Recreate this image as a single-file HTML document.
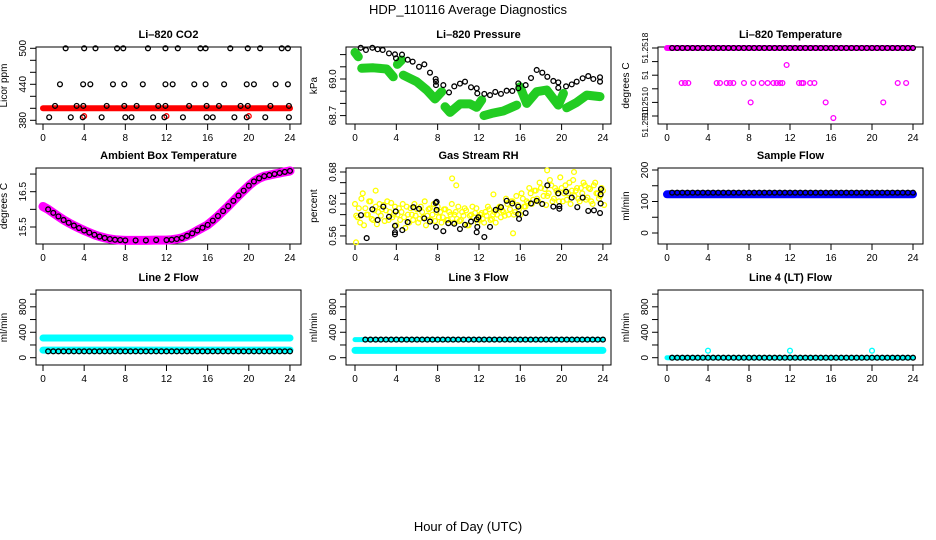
<!DOCTYPE html>
<html><head><meta charset="utf-8"><style>
html,body{margin:0;padding:0;background:#fff;}
svg{display:block;font-family:"Liberation Sans",sans-serif;}
</style></head><body>
<svg id="c" width="936" height="540" viewBox="0 0 936 540">
<text x="468" y="14" text-anchor="middle" font-size="13">HDP_110116  Average Diagnostics</text>
<text x="468" y="531" text-anchor="middle" font-size="13">Hour of Day (UTC)</text>
</svg>
<script>
// ---------- data ----------
const xTicks = [0,4,8,12,16,20,24];
const halfHours = [0.5,1,1.5,2,2.5,3,3.5,4,4.5,5,5.5,6,6.5,7,7.5,8,8.5,9,9.5,10,10.5,11,11.5,12,12.5,13,13.5,14,14.5,15,15.5,16,16.5,17,17.5,18,18.5,19,19.5,20,20.5,21,21.5,22,22.5,23,23.5,24];

const co2Hours = [2.2,4.0,5.1,7.2,7.8,10.2,11.9,13.1,15.3,15.8,18.2,19.9,21.1,23.2,23.8,
 1.65,3.9,4.6,6.8,7.9,9.7,11.9,12.6,14.7,15.8,17.6,19.8,20.5,22.6,23.8,
 1.17,3.27,3.92,6.19,7.9,9.1,11.2,11.9,14.2,15.9,17.1,19.2,19.9,22.1,23.9,
 0.6,2.7,3.86,5.7,8.0,8.6,10.7,11.8,13.6,15.9,16.5,18.6,19.8,21.6,23.9];
const co2Vals = [500,500,500,500,500,500,500,500,500,500,500,500,500,500,500,
 440,440,440,440,440,440,440,440,440,440,440,440,440,440,440,
 404,404,404,404,404,404,404,404,404,404,404,404,404,404,404,
 385,385,385,385,385,385,385,385,385,385,385,385,385,385,385];
const co2BandHours = [0,24];
const co2BandVals = [400,400];
const co2RedHours = [4,12,20];
const co2RedVals = [387,387,387];

const presHours = [0.55,1.06,1.68,2.19,2.68,3.29,3.87,3.97,4.55,5.1,5.58,6.2,6.71,7.26,7.81,7.84,7.84,8.55,9.1,9.61,10.16,10.65,11.23,11.78,11.84,12.52,13.07,13.58,14.13,14.68,15.23,15.81,15.81,16.52,17.04,17.59,18.13,18.62,19.2,19.68,19.68,20.43,20.98,21.46,22.04,22.58,23.07,23.72,23.72];
const presVals = [69.128,69.119,69.128,69.122,69.119,69.105,69.101,69.085,69.1,69.079,69.071,69.05,69.06,69.026,69.0,68.989,68.975,68.975,68.945,68.970,68.981,68.989,68.966,68.962,68.941,68.939,68.934,68.947,68.939,68.952,68.951,68.982,68.962,68.975,69.004,69.037,69.026,69.009,68.992,68.986,68.964,68.970,68.978,68.989,69.003,69.012,69.0,69.007,68.989];
const presGreenHours = [0.0,0.32,null,0.65,1.77,3.07,3.71,null,4.1,4.52,null,4.68,5.97,6.94,7.74,8.39,null,8.71,9.2,10.16,11.13,11.78,12.27,null,12.49,13.23,14.36,15.65,null,15.97,16.62,17.59,18.56,19.68,20.17,null,20.49,21.46,22.43,23.72];
const presGreenVals = [69.109,69.091,null,69.044,69.046,69.041,69.009,null,69.06,69.078,null,69.016,68.989,68.955,68.918,68.948,null,68.886,68.863,68.898,68.898,68.884,68.914,null,68.85,68.859,68.869,68.893,null,68.968,68.9,68.948,68.955,68.893,68.941,null,68.882,68.904,68.934,68.928];

const tempBlackVals = [51.2518,51.2518,51.2518,51.2518,51.2518,51.2518,51.2518,51.2518,51.2518,51.2518,51.2518,51.2518,51.2518,51.2518,51.2518,51.2518,51.2518,51.2518,51.2518,51.2518,51.2518,51.2518,51.2518,51.2518,51.2518,51.2518,51.2518,51.2518,51.2518,51.2518,51.2518,51.2518,51.2518,51.2518,51.2518,51.2518,51.2518,51.2518,51.2518,51.2518,51.2518,51.2518,51.2518,51.2518,51.2518,51.2518,51.2518,51.2518];
const tempBandHours = [0,24];
const tempBandVals = [51.2518,51.2518];
const tempMagHours = [1.43,1.76,2.08,4.85,5.17,5.82,6.15,6.47,7.51,8.42,9.24,9.82,10.38,10.7,11.03,11.26,12.88,13.14,13.3,13.96,14.38,22.51,23.33,8.16,15.48,21.1,11.67,16.23];
const tempMagVals = [51.251285,51.251285,51.251285,51.251285,51.251285,51.251285,51.251285,51.251285,51.251285,51.251285,51.251285,51.251285,51.251285,51.251285,51.251285,51.251285,51.251285,51.251285,51.251285,51.251285,51.251285,51.251285,51.251285,51.2510,51.2510,51.2510,51.25155,51.25077];

const ambHours = [0,0.5,1,1.5,2,2.5,3,3.5,4,4.5,5,5.5,6,6.5,7,7.5,8,9,10,11,12,12.5,13,13.5,14,14.5,15,15.5,16,16.5,17,17.5,18,18.5,19,19.5,20,20.5,21,21.5,22,22.5,23,23.5,24];
const ambVals = [16.08,16.0,15.9,15.8,15.7,15.62,15.54,15.47,15.40,15.34,15.28,15.23,15.19,15.16,15.14,15.13,15.12,15.12,15.12,15.13,15.13,15.14,15.16,15.19,15.25,15.32,15.40,15.48,15.56,15.68,15.81,15.95,16.09,16.24,16.39,16.53,16.67,16.79,16.88,16.94,16.97,17.0,17.03,17.06,17.09];

const rhHours = [1.13,0.58,1.68,2.19,2.74,3.29,3.94,3.87,3.87,3.87,4.58,5.1,5.65,6.2,6.71,7.26,7.81,7.9,7.84,7.9,8.55,9.03,9.61,10.16,10.65,11.23,11.78,11.94,11.84,11.78,12.52,13.07,13.62,14.13,14.68,15.23,15.81,15.81,15.88,16.52,17.04,17.59,18.13,18.62,19.2,19.78,19.78,19.68,20.43,20.98,21.52,22.04,22.58,23.13,23.72,23.78,23.78,23.81];
const rhVals = [0.556,0.599,0.610,0.590,0.615,0.596,0.606,0.579,0.567,0.563,0.571,0.586,0.614,0.611,0.593,0.587,0.622,0.624,0.577,0.609,0.569,0.584,0.583,0.573,0.581,0.587,0.591,0.595,0.577,0.567,0.558,0.577,0.609,0.614,0.626,0.621,0.615,0.601,0.592,0.603,0.621,0.626,0.620,0.655,0.615,0.616,0.611,0.640,0.643,0.632,0.614,0.632,0.607,0.608,0.603,0.621,0.638,0.648];
const rhYelA = [.620,.595,.585,.640,.612,.600,.625,.590,.615,.605,
.598,.618,.608,.590,.622,.600,.580,.612,.605,.595,
.615,.585,.600,.620,.610,.592,.605,.625,.598,.612,
.600,.588,.615,.605,.595,.610,.590,.600,.585,.605,
.615,.590,.598,.608,.580,.600,.595,.612,.590,.603,
.585,.598,.610,.592,.605,.600,.615,.608,.598,.620,
.610,.625,.605,.618,.600,.630,.615,.622,.640,.628,
.645,.625,.650,.635,.618,.640,.655,.630,.645,.625,
.650,.640,.628,.660,.645,.635,.650,.625,.640,.655,
.632,.648,.620,.660,.640,.635,.645];
const rhYelB = [.598,.612,.630,.580,.600,.625,.592,.608,.582,.620,
.610,.588,.625,.605,.595,.615,.600,.590,.620,.575,
.600,.612,.590,.598,.585,.615,.595,.580,.610,.590,
.620,.605,.595,.585,.610,.590,.605,.620,.600,.592,
.588,.605,.612,.580,.598,.615,.603,.585,.600,.592,
.605,.615,.590,.600,.585,.612,.595,.605,.630,.600,
.625,.600,.635,.610,.640,.615,.625,.650,.620,.645,
.630,.660,.620,.648,.635,.665,.625,.650,.640,.670,
.625,.655,.640,.620,.665,.645,.630,.650,.660,.628,
.650,.625,.655,.640,.630,.650,.618];
const rhOutHours = [0.1,2.0,9.4,9.8,15.3,18.6,21.2,13.4];
const rhOutVals = [0.548,0.645,0.668,0.655,0.565,0.683,0.680,0.638];

const sfVals = [128,128,128,128,128,128,128,128,128,128,128,128,128,128,128,128,128,128,128,128,128,128,128,128,128,128,128,128,128,128,128,128,128,128,128,128,128,128,128,128,128,128,128,128,128,128,128,128];
const sfBandHours = [0,24];
const sfBandVals = [123,123];

const l2Vals = [100,100,100,100,100,100,100,100,100,100,100,100,100,100,100,100,100,100,100,100,100,100,100,100,100,100,100,100,100,100,100,100,100,100,100,100,100,100,100,100,100,100,100,100,100,100,100,100];
const l2CyanHours = [0,24];
const l2CyanHi = [310,310];
const l2CyanLo = [120,120];

const l3Vals = [285,285,285,285,285,285,285,285,285,285,285,285,285,285,285,285,285,285,285,285,285,285,285,285,285,285,285,285,285,285,285,285,285,285,285,285,285,285,285,285,285,285,285,285,285,285,285,285];
const l3CyanHours = [0,24];
const l3CyanLo = [115,115];
const l3CyanHi = [285,285];

const l4Vals = [0,0,0,0,0,0,0,0,0,0,0,0,0,0,0,0,0,0,0,0,0,0,0,0,0,0,0,0,0,0,0,0,0,0,0,0,0,0,0,0,0,0,0,0,0,0,0,0];
const l4CyanHours = [0,24];
const l4CyanVals = [0,0];
const l4SpikeHours = [4,12,20];
const l4SpikeVals = [110,110,110];

// ---------- layout ----------
const NS = "http://www.w3.org/2000/svg";
const svg = document.getElementById('c');
const colX0=[43,355,667], colPx=[10.29,10.33,10.25];
const boxL=[36,346,658], boxR=[301,611,923];
const rowT=[47,168,290], rowB=[124,244,365];

function mk(tag, attrs, parent){
  const e=document.createElementNS(NS,tag);
  for(const k in attrs) e.setAttribute(k,attrs[k]);
  (parent||svg).appendChild(e);
  return e;
}
function xs(col,h){return colX0[col]+h*colPx[col];}

function frame(col,row,title,ytitle,yfn,yticks,ylabels,key,lfs){
  const g=mk('g',{});
  
  
  const L=boxL[col],R=boxR[col],T=rowT[row],B=rowB[row];
  const r=mk('rect',{x:L,y:T,width:R-L,height:B-T,fill:'none',stroke:'#000','stroke-width':1},g);
  
  
  const t=mk('text',{x:(L+R)/2,y:T-9,'text-anchor':'middle','font-size':11,'font-weight':'bold'},g);
  t.textContent=title;
  
  
  mk('line',{x1:xs(col,0),x2:xs(col,24),y1:B,y2:B,stroke:'#000'},g);
  xTicks.forEach(v=>{
    const x=xs(col,v);
    mk('line',{x1:x,x2:x,y1:B,y2:B+6,stroke:'#000'},g);
    const tl=mk('text',{x:x,y:B+17,'text-anchor':'middle','font-size':10},g);
    tl.textContent=v;
    
    
  });
  yticks.forEach((v,i)=>{
    const y=yfn(v);
    mk('line',{x1:L-6,x2:L,y1:y,y2:y,stroke:'#000'},g);
    if(ylabels[i]!==''){
      const tl=mk('text',{x:L-10,y:y,'text-anchor':'middle','font-size':lfs||10,transform:'rotate(-90 '+(L-10)+' '+y+')'},g);
      tl.textContent=ylabels[i];
      
      
    }
  });
  const ym=(T+B)/2;
  const yt=mk('text',{x:L-29,y:ym,'text-anchor':'middle','font-size':10,transform:'rotate(-90 '+(L-29)+' '+ym+')'},g);
  yt.textContent=ytitle;
  
  
  return g;
}
function pts(g,col,yfn,hours,vals,color,name,r,sw){
  hours.forEach((h,i)=>{
    const c=mk('circle',{cx:xs(col,h),cy:yfn(vals[i]),r:r||2.4,fill:'none',stroke:color,'stroke-width':sw||1.3},g);
    
    
  });
}
function band(g,col,yfn,hours,vals,color,w,name){
  let d='',pen=false;
  hours.forEach((h,i)=>{
    if(h===null||vals[i]===null){pen=false;return;}
    d+=(pen?'L':'M')+xs(col,h).toFixed(1)+' '+yfn(vals[i]).toFixed(1)+' ';
    pen=true;
  });
  const p=mk('path',{d:d,fill:'none',stroke:color,'stroke-width':w,'stroke-linecap':'round','stroke-linejoin':'round'},g);
  
  
}

// CO2
{const yf=v=>48.3+(500-v)*0.6;
 const g=frame(0,0,'Li\u2013820 CO2','Licor ppm',yf,[380,400,420,440,460,480,500],['380','','','440','','','500'],'co2');
 band(g,0,yf,co2BandHours,co2BandVals,'#ff0000',6,'co2-red-band');
 pts(g,0,yf,co2RedHours,co2RedVals,'#ff0000','co2-red-point');
 pts(g,0,yf,co2Hours,co2Vals,'#000','co2-point');}
// Pressure
{const yf=v=>79+(69.0-v)*244;
 const g=frame(1,0,'Li\u2013820 Pressure','kPa',yf,[69.10,69.05,69.0,68.95,68.90,68.85],['','','69.0','','','68.7'],'pressure');
 band(g,1,yf,presGreenHours,presGreenVals,'#22cc22',9,'pressure-green-band');
 pts(g,1,yf,presHours,presVals,'#000','pressure-point');}
// Temperature
{const yf=v=>48+(51.2518-v)*68000;
 const g=frame(2,0,'Li\u2013820 Temperature','degrees C',yf,[51.2518,51.2516,51.2514,51.2512,51.2510,51.2508],['51.2518','','51','','51.2510',''],'li820-temp',8.5);
 const bl=mk('text',{x:648,y:122,'text-anchor':'middle','font-size':8.5,transform:'rotate(-90 648 122)'},g);
 bl.textContent='51.2510';
 
 
 band(g,2,yf,tempBandHours,tempBandVals,'#ff00ff',6,'temp-magenta-band');
 pts(g,2,yf,halfHours,tempBlackVals,'#000','temp-point');
 pts(g,2,yf,tempMagHours,tempMagVals,'#ff00ff','temp-magenta-point');}
// Ambient
{const yf=v=>191.7+(16.5-v)*35.3;
 const g=frame(0,1,'Ambient Box Temperature','degrees C',yf,[17.0,16.5,16.0,15.5],['','16.5','','15.5'],'ambient');
 band(g,0,yf,ambHours,ambVals,'#ff00ff',9,'ambient-magenta-band');
 pts(g,0,yf,ambHours.slice(1),ambVals.slice(1),'#000','ambient-point');}
// RH
{const yf=v=>172+(0.68-v)*533;
 const g=frame(1,1,'Gas Stream RH','percent',yf,[0.68,0.66,0.64,0.62,0.60,0.58,0.56],['0.68','','','0.62','','','0.56'],'rh');
 pts(g,1,yf,rhYelA.map((v,i)=>i*0.25),rhYelA,'#ffff00','rh-yellow-point');
 pts(g,1,yf,rhYelB.map((v,i)=>i*0.25+0.12),rhYelB,'#ffff00','rh-yellow-point');
 pts(g,1,yf,rhOutHours,rhOutVals,'#ffff00','rh-yellow-point');
 pts(g,1,yf,rhHours,rhVals,'#000','rh-point');}
// Sample flow
{const yf=v=>233-v*0.315;
 const g=frame(2,1,'Sample Flow','ml/min',yf,[0,50,100,150,200],['0','','100','','200'],'sample-flow');
 band(g,2,yf,sfBandHours,sfBandVals,'#0000ff',8,'sample-flow-blue-band');
 pts(g,2,yf,halfHours,sfVals,'#000','sample-flow-point');}
// Line flows
const lf=v=>357.7-v*0.0636;
const lfT=[0,200,400,600,800,1000], lfL=['0','','400','','800',''];
{const g=frame(0,2,'Line 2 Flow','ml/min',lf,lfT,lfL,'line2');
 band(g,0,lf,l2CyanHours,l2CyanHi,'#00ffff',7,'line2-cyan-high');
 band(g,0,lf,l2CyanHours,l2CyanLo,'#00ffff',7,'line2-cyan-low');
 pts(g,0,lf,halfHours,l2Vals,'#000','line2-point');}
{const g=frame(1,2,'Line 3 Flow','ml/min',lf,lfT,lfL,'line3');
 band(g,1,lf,l3CyanHours,l3CyanLo,'#00ffff',7,'line3-cyan-low');
 band(g,1,lf,l3CyanHours,l3CyanHi,'#00ffff',5,'line3-cyan-high');
 pts(g,1,lf,halfHours.slice(1),l3Vals.slice(1),'#000','line3-point');}
{const g=frame(2,2,'Line 4 (LT) Flow','ml/min',lf,lfT,lfL,'line4');
 band(g,2,lf,l4CyanHours,l4CyanVals,'#00ffff',5,'line4-cyan-band');
 pts(g,2,lf,halfHours,l4Vals,'#000','line4-point');
 pts(g,2,lf,l4SpikeHours,l4SpikeVals,'#00ffff','line4-cyan-spike');}
</script>
</body></html>
